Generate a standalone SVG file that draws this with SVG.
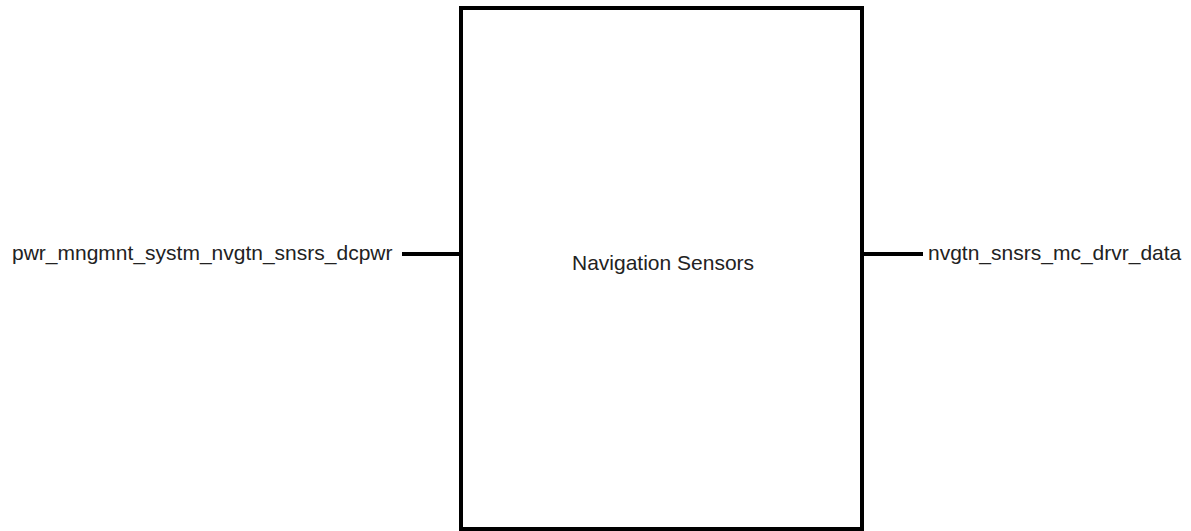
<svg xmlns="http://www.w3.org/2000/svg" width="1191" height="531" viewBox="0 0 1191 531">
<style>
.lbl{font-family:"Liberation Sans",Arial,sans-serif;font-size:21px;fill:#222}
.edge{stroke:#000;stroke-width:4;fill:none}
</style>
<rect width="1191" height="531" fill="#fff"/>
<g id="connectors">
<line class="edge" x1="402" y1="254" x2="461" y2="254"/>
<line class="edge" x1="862" y1="254" x2="923" y2="254"/>
</g>
<g id="node-navigation-sensors">
<rect x="461" y="8" width="401" height="521" fill="#fff" stroke="#000" stroke-width="4"/>
<text class="lbl" x="572" y="270">Navigation Sensors</text>
</g>
<g id="port-in">
<text class="lbl" x="12" y="260">pwr_mngmnt_systm_nvgtn_snsrs_dcpwr</text>
</g>
<g id="port-out">
<text class="lbl" x="928" y="260">nvgtn_snsrs_mc_drvr_data</text>
</g>
</svg>
